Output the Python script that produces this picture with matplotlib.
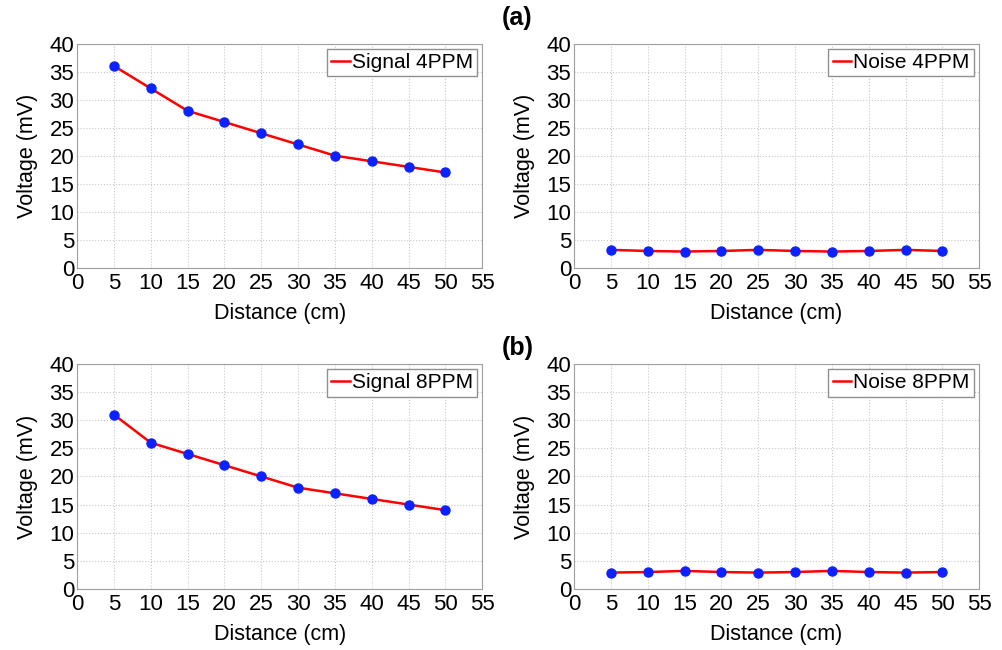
import numpy as np
import matplotlib
matplotlib.use("Agg")
import matplotlib.pyplot as plt

plt.rcParams['font.family'] = ['Liberation Sans', 'DejaVu Sans']

distance = [5, 10, 15, 20, 25, 30, 35, 40, 45, 50]
signal_4ppm = [36, 32, 28, 26, 24, 22, 20, 19, 18, 17]
noise_4ppm = [3.2, 3.0, 2.9, 3.0, 3.2, 3.0, 2.9, 3.0, 3.2, 3.0]
signal_8ppm = [31, 26, 24, 22, 20, 18, 17, 16, 15, 14]
noise_8ppm = [2.9, 3.0, 3.2, 3.0, 2.9, 3.0, 3.2, 3.0, 2.9, 3.0]

panels = [
    (signal_4ppm, "Signal 4PPM", [0.0768, 0.588, 0.404, 0.345]),
    (noise_4ppm, "Noise 4PPM", [0.5723, 0.588, 0.404, 0.345]),
    (signal_8ppm, "Signal 8PPM", [0.0768, 0.094, 0.404, 0.346]),
    (noise_8ppm, "Noise 8PPM", [0.5723, 0.094, 0.404, 0.346]),
]

fig = plt.figure(figsize=(10.03, 6.5), dpi=100)

for vals, name, rect in panels:
    ax = fig.add_axes(rect)
    ax.plot(distance, vals, color="#ff0000", lw=1.8, label=name)
    ax.plot(distance, vals, "o", color="#0a22ff", ms=6.5, zorder=3)
    ax.set_xlim(0, 55)
    ax.set_ylim(0, 40)
    ax.set_xticks(np.arange(0, 56, 5))
    ax.set_yticks(np.arange(0, 41, 5))
    ax.grid(True, color="#c8c8c8", ls=":", lw=0.8)
    for s in ax.spines.values():
        s.set_color("#a0a0a0")
    ax.tick_params(labelsize=16, length=0)
    ax.tick_params(axis="x", pad=4)
    ax.tick_params(axis="y", pad=2)
    ax.set_xlabel("Distance (cm)", fontsize=15.5, labelpad=6)
    ax.set_ylabel("Voltage (mV)", fontsize=15.5, labelpad=8)
    leg = ax.legend(loc="upper right", fontsize=15, handlelength=0.9,
                    handletextpad=0.1, borderpad=0.2, borderaxespad=0.25,
                    fancybox=False, framealpha=1)
    leg.get_frame().set_edgecolor("#909090")

fig.text(0.516, 0.972, "(a)", fontsize=18, fontweight="bold", ha="center", va="center")
fig.text(0.516, 0.465, "(b)", fontsize=18, fontweight="bold", ha="center", va="center")

fig.savefig("out.png", dpi=100)
